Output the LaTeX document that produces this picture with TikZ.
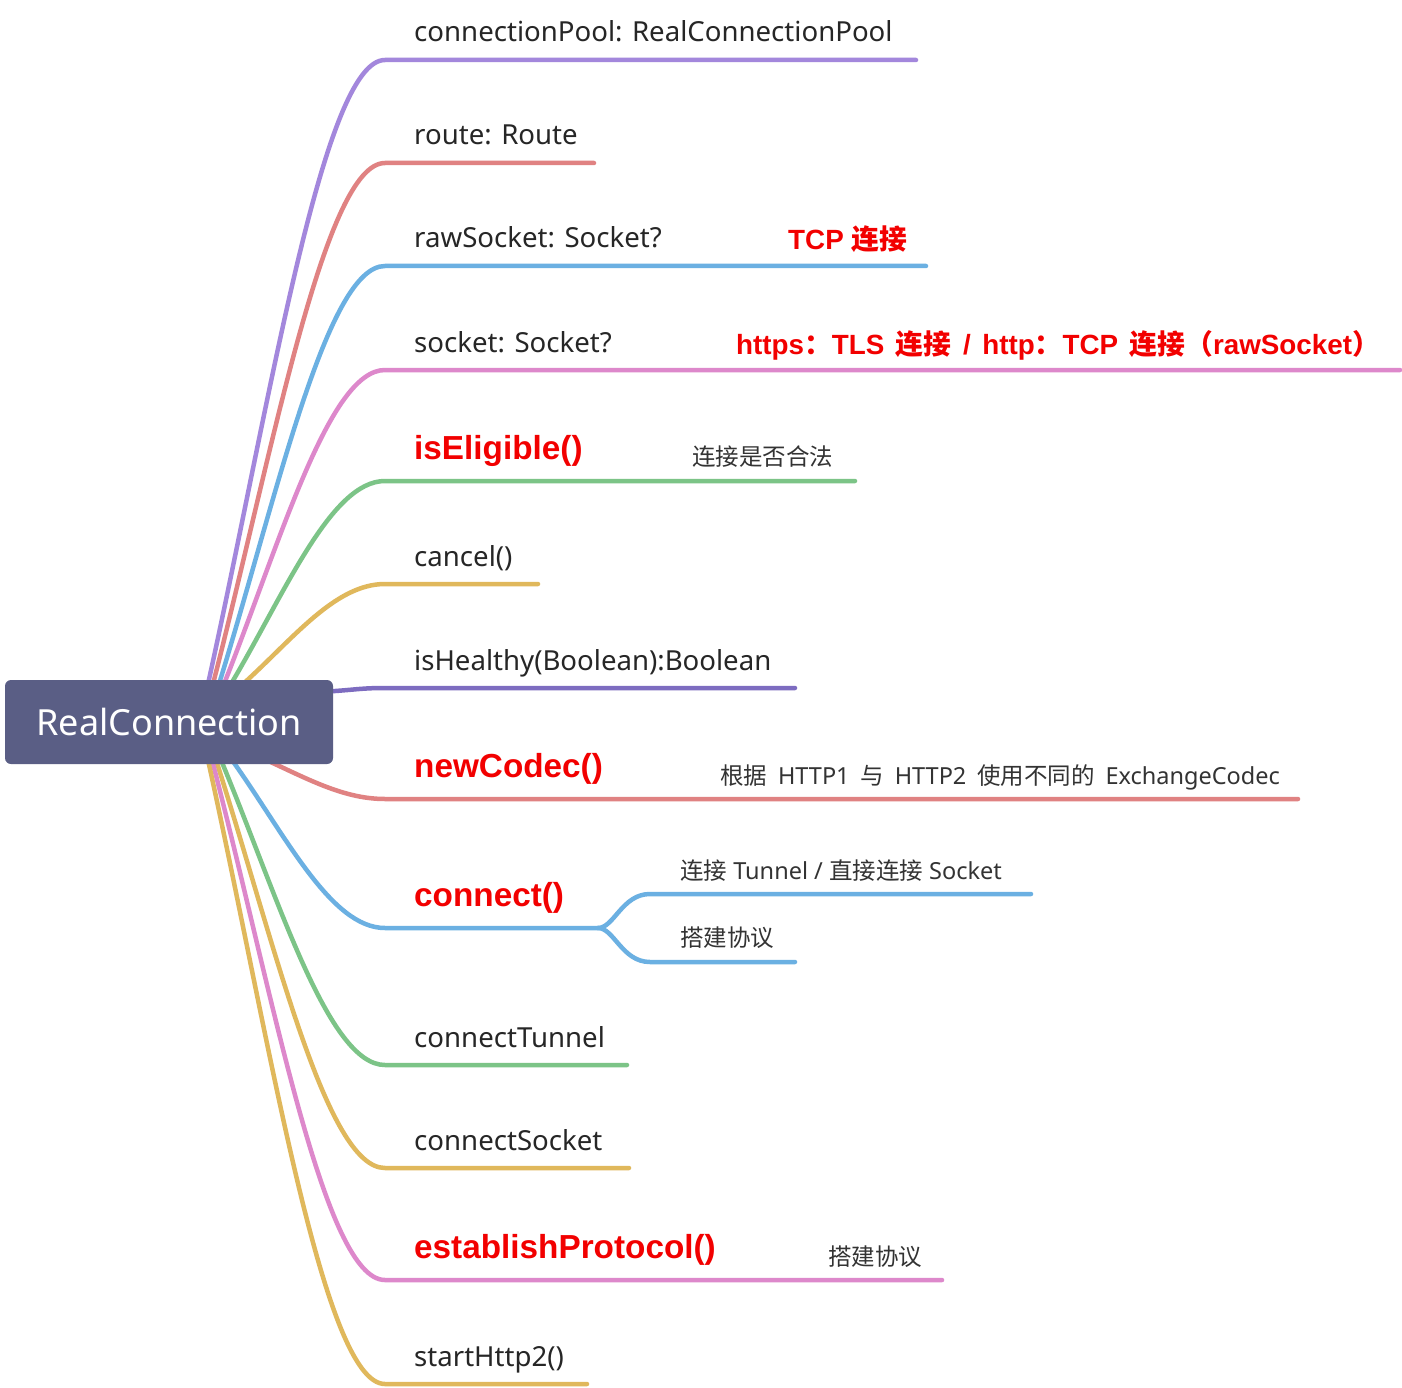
\documentclass[tikz,border=0pt]{standalone}
\usepackage{fontspec}
\setmainfont{Noto Sans}
\newfontfamily\cjk{Noto Sans CJK SC}
\newfontfamily\arl{Liberation Sans}
\newcommand\C[1]{{\cjk #1}}
\definecolor{cpur}{HTML}{A387DC}
\definecolor{csal}{HTML}{E08282}
\definecolor{cblu}{HTML}{6BB0E2}
\definecolor{cpin}{HTML}{DD88CB}
\definecolor{cgrn}{HTML}{7CC487}
\definecolor{cyel}{HTML}{E0B85C}
\definecolor{cdpur}{HTML}{7D6CC0}
\definecolor{rootfill}{HTML}{5A5E85}
\definecolor{lblgray}{HTML}{262626}
\definecolor{notegray}{HTML}{333333}
\definecolor{kred}{HTML}{F20000}
\begin{document}
\begin{tikzpicture}[x=1pt,y=-1pt,
  lbl/.style={anchor=base west, inner sep=0, font=\fontsize{27.6}{32}\selectfont, text=lblgray},
  keylbl/.style={anchor=base west, inner sep=0, font=\arl\bfseries\fontsize{33.3}{38}\selectfont, text=kred},
  note/.style={anchor=base west, inner sep=0, font=\fontsize{23.5}{28}\selectfont, text=notegray},
  rnote/.style={anchor=base west, inner sep=0, font=\arl\bfseries\fontsize{27.8}{32}\selectfont, text=kred},
  branch/.style={line width=4.5pt, line cap=round},
  rootbox/.style={fill=rootfill, rounded corners=6pt, minimum width=328pt, minimum height=84pt, inner sep=0, text=white, font=\fontsize{36}{40}\selectfont}]
\fill[white] (0,0) rectangle (1402,1388);
\useasboundingbox (0,0) rectangle (1402,1388);

% coordinates
\coordinate (s1) at (208,684); \coordinate (a1) at (385,60);  \coordinate (e1) at (916,60);
\coordinate (s2) at (213,684); \coordinate (a2) at (385,163); \coordinate (e2) at (594,163);
\coordinate (s3) at (219,684); \coordinate (a3) at (385,266); \coordinate (e3) at (926,266);
\coordinate (s4) at (224,684); \coordinate (a4) at (385,370); \coordinate (e4) at (1400,370);
\coordinate (s5) at (231,684); \coordinate (a5) at (385,481); \coordinate (e5) at (855,481);
\coordinate (s6) at (243,684); \coordinate (a6) at (385,584); \coordinate (e6) at (538,584);
\coordinate (s7) at (320,692); \coordinate (a7) at (385,688); \coordinate (e7) at (795,688);
\coordinate (s8) at (255,755); \coordinate (a8) at (385,799); \coordinate (e8) at (1298,799);
\coordinate (s9) at (232,760); \coordinate (a9) at (385,928); \coordinate (f9) at (598,928);
\coordinate (u9) at (650,894); \coordinate (ue9) at (1031,894);
\coordinate (d9) at (650,962); \coordinate (de9) at (795,962);
\coordinate (s10) at (221,760); \coordinate (a10) at (385,1065); \coordinate (e10) at (627,1065);
\coordinate (s11) at (216,760); \coordinate (a11) at (385,1168); \coordinate (e11) at (629,1168);
\coordinate (s12) at (212,760); \coordinate (a12) at (385,1280); \coordinate (e12) at (942,1280);
\coordinate (s13) at (208,760); \coordinate (a13) at (385,1384); \coordinate (e13) at (587,1384);

% branches
\draw[branch, cyel] (s6) .. controls (293,639) and (335,584) .. (a6) -- (e6);
\draw[branch, cgrn] (s5) .. controls (285,593) and (331,481) .. (a5) -- (e5);
\draw[branch, cpin] (s4) .. controls (280,543) and (329,370) .. (a4) -- (e4);
\draw[branch, cblu] (s3) .. controls (277,496) and (327,266) .. (a3) -- (e3);
\draw[branch, csal] (s2) .. controls (273,450) and (325,163) .. (a2) -- (e2);
\draw[branch, cpur] (s1) .. controls (270,403) and (323,60) .. (a1) -- (e1);
\draw[branch, cdpur] (s7) .. controls (355,690) and (360,688) .. (a7) -- (e7);
\draw[branch, csal] (s8) .. controls (301,775) and (340,799) .. (a8) -- (e8);
\draw[branch, cblu] (s9) .. controls (286,836) and (331,928) .. (a9) -- (f9);
\draw[branch, cblu] (f9) .. controls (614,928) and (622,894) .. (u9) -- (ue9);
\draw[branch, cblu] (f9) .. controls (614,928) and (622,962) .. (d9) -- (de9);
\draw[branch, cgrn] (s10) .. controls (278,897) and (328,1065) .. (a10) -- (e10);
\draw[branch, cyel] (s11) .. controls (275,944) and (326,1168) .. (a11) -- (e11);
\draw[branch, cpin] (s12) .. controls (273,994) and (324,1280) .. (a12) -- (e12);
\draw[branch, cyel] (s13) .. controls (270,1041) and (323,1384) .. (a13) -- (e13);

% root
\node[rootbox] (root) at (169,722) {RealConnection};

% labels
\node[lbl] (t1) at (414,42) {connectionPool: RealConnectionPool};
\node[lbl] (t2) at (414,145) {route: Route};
\node[lbl] (t3) at (414,248) {rawSocket: Socket?};
\node[rnote] (r3) at (788,250) {TCP \C{连接}};
\node[lbl] (t4) at (414,352) {socket: Socket?};
\node[rnote] (r4) at (736,354) {\spaceskip=11.5pt https\C{：}TLS \C{连接} / http\C{：}TCP \C{连接（}rawSocket\C{）}};
\node[keylbl] (t5) at (414,459) {isEligible()};
\node[note] (n5) at (692,465) {\C{连接是否合法}};
\node[lbl] (t6) at (414,566) {cancel()};
\node[lbl] (t7) at (414,670) {isHealthy(Boolean):Boolean};
\node[keylbl] (t8) at (414,777) {newCodec()};
\node[note] (n8) at (720,784) {\spaceskip=10.8pt \C{根据} HTTP1 \C{与} HTTP2 \C{使用不同的} ExchangeCodec};
\node[keylbl] (t9) at (414,906) {connect()};
\node[note] (n9a) at (680,879) {\C{连接} Tunnel / \C{直接连接} Socket};
\node[note] (n9b) at (680,946) {\C{搭建协议}};
\node[lbl] (t10) at (414,1047) {connectTunnel};
\node[lbl] (t11) at (414,1150) {connectSocket};
\node[keylbl] (t12) at (414,1258) {establishProtocol()};
\node[note] (n12) at (828,1265) {\C{搭建协议}};
\node[lbl] (t13) at (414,1366) {startHttp2()};
\end{tikzpicture}
\end{document}
